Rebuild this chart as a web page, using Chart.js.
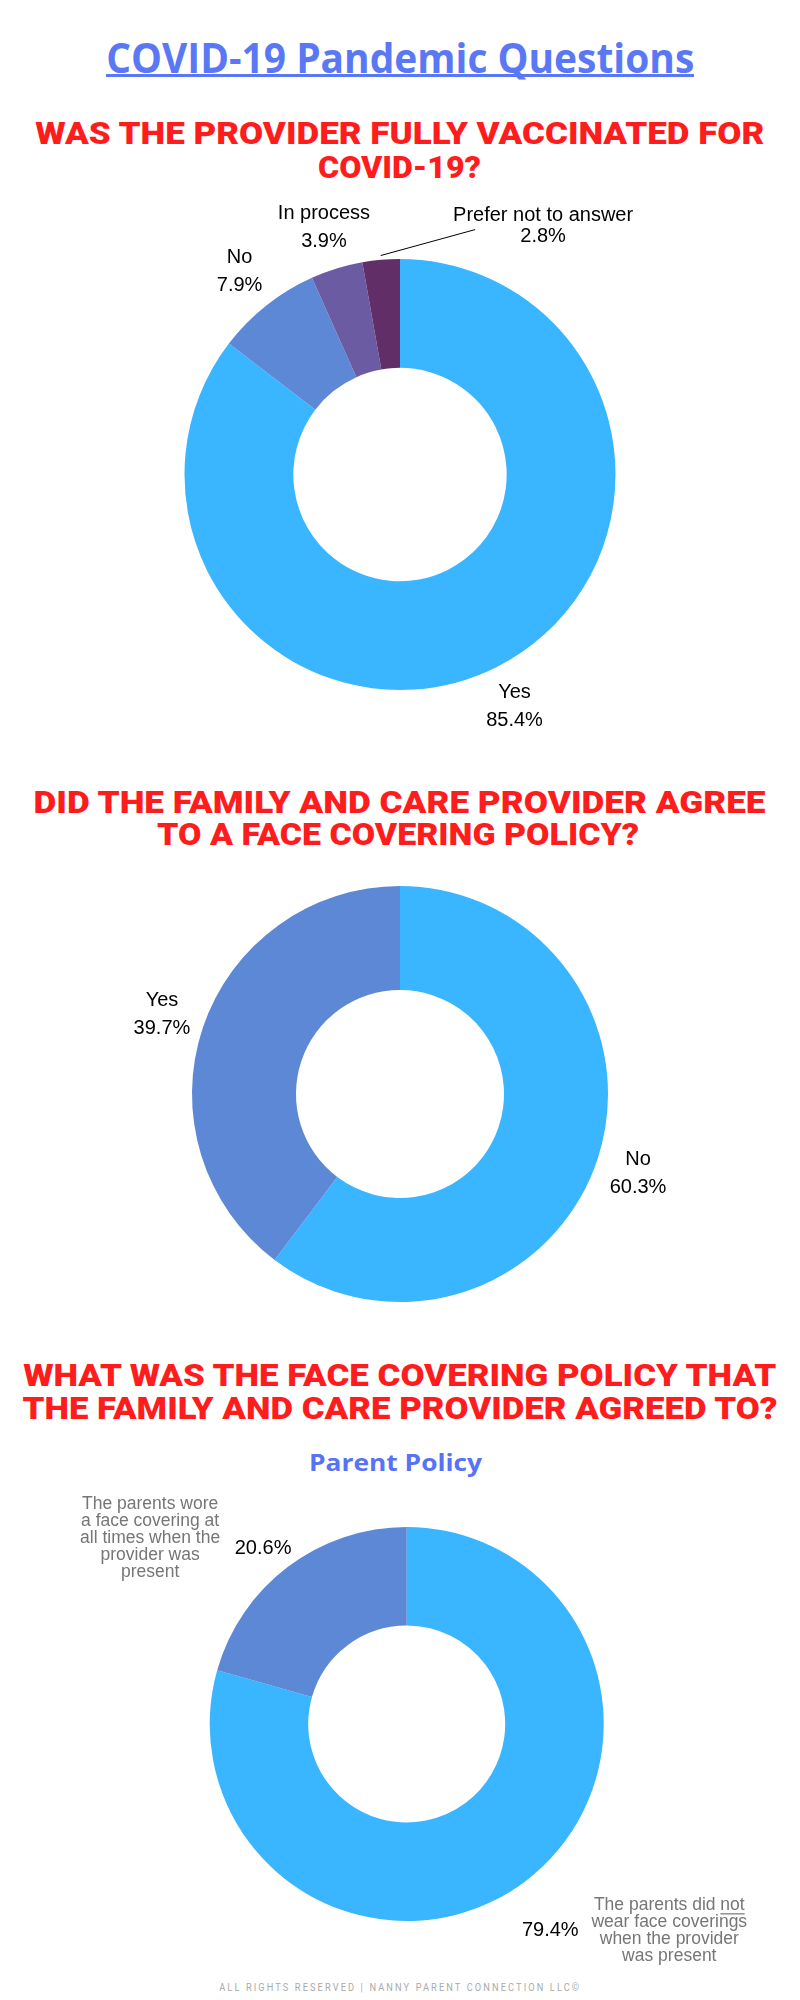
<!DOCTYPE html>
<html><head><meta charset="utf-8">
<script src="https://cdn.jsdelivr.net/npm/chart.js@4.4.1/dist/chart.umd.min.js"></script>
<style>
html,body{margin:0;padding:0;background:#fff;}
#page{position:relative;width:800px;height:2000px;overflow:hidden;background:#fff;}
.t{position:absolute;left:0;top:0;white-space:nowrap;line-height:1;transform-origin:center center;}
.main{font-family:"Open Sans",sans-serif;font-weight:700;font-size:42px;color:#5A78F6;}
.red{font-family:Roboto,sans-serif;font-weight:900;font-size:31px;color:#FF1C1C;}
.sub{font-family:"Open Sans",sans-serif;font-weight:700;font-size:23px;color:#5672F5;}
.foot{font-family:Roboto,sans-serif;font-size:11px;letter-spacing:2.5px;color:#aaaaaa;}
#uline{position:absolute;left:106px;width:588px;top:74px;height:3px;background:#5A78F6;}
canvas{position:absolute;left:0;}
</style></head>
<body><div id="page">
<div class="t main" data-cx="400" data-cy="57" data-w="588">COVID-19 Pandemic Questions</div>
<div id="uline"></div>
<div class="t red" data-cx="400" data-cy="133" data-w="729">WAS THE PROVIDER FULLY VACCINATED FOR</div>
<div class="t red" data-cx="400" data-cy="167" data-w="163">COVID-19?</div>
<div class="t red" data-cx="400" data-cy="802" data-w="732">DID THE FAMILY AND CARE PROVIDER AGREE</div>
<div class="t red" data-cx="398" data-cy="834" data-w="482">TO A FACE COVERING POLICY?</div>
<div class="t red" data-cx="400" data-cy="1375" data-w="753">WHAT WAS THE FACE COVERING POLICY THAT</div>
<div class="t red" data-cx="400" data-cy="1408" data-w="755">THE FAMILY AND CARE PROVIDER AGREED TO?</div>
<div class="t sub" data-cx="396" data-cy="1462" data-w="173">Parent Policy</div>
<div class="t foot" data-cx="400" data-cy="1987" data-w="362">ALL RIGHTS RESERVED | NANNY PARENT CONNECTION LLC©</div>
<canvas id="c1" width="800" height="570" style="top:190px"></canvas>
<canvas id="c2" width="800" height="480" style="top:860px"></canvas>
<canvas id="c3" width="800" height="480" style="top:1490px"></canvas>
</div>
<script>
// ---- data ----
const q1Labels = ["Yes", "No", "In process", "Prefer not to answer"];
const q1Values = [85.4, 7.9, 3.9, 2.8];
const q1Colors = ["#3AB5FF", "#5D88D6", "#6A5BA2", "#622E68"];

const q2Labels = ["No", "Yes"];
const q2Values = [60.3, 39.7];
const q2Colors = ["#3AB5FF", "#5D88D6"];

const q3Labels = [
  ["The parents did _not_", "wear face coverings", "when the provider", "was present"],
  ["The parents wore", "a face covering at", "all times when the", "provider was", "present"]
];
const q3Values = [79.4, 20.6];
const q3Colors = ["#3AB5FF", "#5D88D6"];

// ---- layout of titles ----
document.querySelectorAll('.t').forEach(el => {
  const cx = +el.dataset.cx, cy = +el.dataset.cy, w = +el.dataset.w;
  const r = el.getBoundingClientRect();
  const sx = w ? w / r.width : 1;
  el.style.left = (cx - r.width / 2) + 'px';
  el.style.top = (cy - r.height / 2) + 'px';
  el.style.transform = 'scaleX(' + sx + ')';
});

const LABEL_FONT = '20px "Liberation Sans", Arial, sans-serif';
const GRAY_FONT = '17.5px "Liberation Sans", Arial, sans-serif';

function drawBlock(ctx, lines, cx, cy, lh) {
  ctx.font = GRAY_FONT;
  ctx.fillStyle = '#767676';
  ctx.textBaseline = 'middle';
  ctx.textAlign = 'left';
  const n = lines.length;
  lines.forEach((line, j) => {
    const y = cy + (j - (n - 1) / 2) * lh;
    const parts = line.split('_');
    const widths = parts.map(s => ctx.measureText(s).width);
    const tot = widths.reduce((a, b) => a + b, 0);
    let x = cx - tot / 2;
    parts.forEach((s, k) => {
      ctx.fillText(s, x, y);
      if (k % 2 === 1) ctx.fillRect(x, y + 8, widths[k], 1.2);
      x += widths[k];
    });
  });
}

const outLabels = {
  id: 'outLabels',
  afterDatasetsDraw(chart, args, opts) {
    const ctx = chart.ctx;
    const meta = chart.getDatasetMeta(0);
    const ds = chart.data.datasets[0];
    ctx.save();
    meta.data.forEach((arc, i) => {
      const p = arc.getProps(['x', 'y', 'startAngle', 'endAngle', 'outerRadius'], true);
      const mid = (p.startAngle + p.endAngle) / 2;
      const spec = (opts.items && opts.items[i]) || {};
      const R = p.outerRadius;
      let lx, ly;
      if (spec.at) {
        lx = p.x + spec.at[0] * R;
        ly = p.y + spec.at[1] * R;
      } else {
        const k = spec.k || opts.k;
        lx = p.x + Math.cos(mid) * R * k + (spec.dx || 0);
        ly = p.y + Math.sin(mid) * R * k + (spec.dy || 0);
      }
      const pct = ds.data[i].toFixed(1) + '%';
      ctx.font = LABEL_FONT;
      ctx.fillStyle = '#000';
      ctx.textAlign = 'center';
      ctx.textBaseline = 'middle';
      if (spec.leader) {
        const sx = p.x + Math.cos(mid) * R * 1.02, sy = p.y + Math.sin(mid) * R * 1.02;
        ctx.strokeStyle = '#000'; ctx.lineWidth = 1;
        ctx.beginPath(); ctx.moveTo(sx, sy); ctx.lineTo(lx + spec.leader[0], ly + spec.leader[1]); ctx.stroke();
      }
      if (opts.names) {
        const g = (spec.gap || opts.gap) / 2;
        ctx.fillText(chart.data.labels[i], lx, ly - g);
        ctx.fillText(pct, lx, ly + g);
      } else {
        ctx.fillText(pct, lx, ly);
        const lines = chart.data.labels[i];
        drawBlock(ctx, lines, lx + spec.bx, ly + spec.by, 17);
      }
    });
    ctx.restore();
  }
};

function makeChart(id, labels, values, colors, padding, cutout, labelOpts) {
  return new Chart(document.getElementById(id), {
    type: 'doughnut',
    data: {
      labels: labels,
      datasets: [{ data: values, backgroundColor: colors, borderWidth: 0, hoverOffset: 0, offset: 0 }]
    },
    options: {
      responsive: false, animation: false, events: [],
      cutout: cutout,
      layout: { padding: padding },
      plugins: { legend: { display: false }, tooltip: { enabled: false }, outLabels: labelOpts }
    },
    plugins: [outLabels]
  });
}

makeChart('c1', q1Labels, q1Values, q1Colors,
  { top: 69, bottom: 70, left: 0, right: 0 }, '49.5%',
  { names: true, k: 1.2, gap: 28,
    items: { 3: { at: [0.664, -1.155], gap: 21, leader: [-68, 4] } } });

makeChart('c2', q2Labels, q2Values, q2Colors,
  { top: 26, bottom: 38, left: 0, right: 0 }, '50%',
  { names: true, k: 1.207, gap: 28 });

makeChart('c3', q3Labels, q3Values, q3Colors,
  { top: 37, bottom: 49, left: 13.4, right: 0 }, '50%',
  { names: false, k: 1.15,
    items: { 0: { dx: 7, dy: 26, bx: 119, by: 0 }, 1: { dx: -7, dy: 5, bx: -113, by: -10 } } });
</script>
</body></html>
